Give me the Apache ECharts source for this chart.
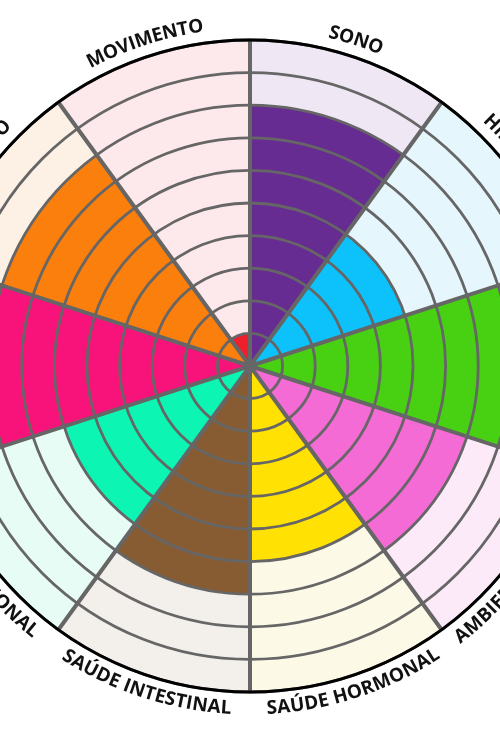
<!DOCTYPE html>
<html><head><meta charset="utf-8">
<script src="https://cdn.jsdelivr.net/npm/echarts@6/dist/echarts.min.js"></script>
<style>html,body{margin:0;padding:0;background:#fff;}#c{width:500px;height:730px;}</style>
</head><body><div id="c"></div>
<script>
// ---- data ----
const categories = ['SONO','HIDRATAÇÃO','ALIMENTAÇÃO','AMBIENTE E TOXINAS','SAÚDE HORMONAL','SAÚDE INTESTINAL','SAÚDE EMOCIONAL','ESTRESSE','PROPÓSITO','MOVIMENTO'];
const scores = [8, 5, 9, 7, 6, 7, 6, 8, 8, 1];
const maxScore = 10;
const fillColors = ['#672C92','#0DC2FA','#48D013','#F56BD6','#FFE203','#875C33','#0CF5B2','#F8137A','#FA7F0C','#EF1F2B'];
const bgColors   = ['#EFE7F4','#E6F6FD','#EAF9E3','#FCEAF8','#FCF9E7','#F3EFEA','#E6FCF5','#FDE7F0','#FDF1E6','#FDE9EC'];

// ---- layout ----
const CX = 250, CY = 366, R = 326;
const LABEL_R = 343;
const FONT = '700 19px "Open Sans", sans-serif';

const chart = echarts.init(document.getElementById('c'), null, {renderer: 'canvas'});

// curved labels, char by char
const ctx = document.createElement('canvas').getContext('2d');
ctx.font = FONT;
const labelEls = [];
const step = 360 / categories.length;
categories.forEach((name, i) => {
  const mid = (i + 0.5) * step; // degrees clockwise from top
  const chars = Array.from(name);
  const widths = chars.map(c => ctx.measureText(c).width);
  const L = widths.reduce((a, b) => a + b, 0);
  const bottom = mid > 90 && mid < 270;
  const halfDeg = (L / 2) / LABEL_R * 180 / Math.PI;
  let cum = 0;
  chars.forEach((ch, k) => {
    const off = (cum + widths[k] / 2) / LABEL_R * 180 / Math.PI;
    cum += widths[k];
    let th = bottom ? (mid + halfDeg - off) : (mid - halfDeg + off);
    const t = th * Math.PI / 180;
    const x = CX + LABEL_R * Math.sin(t);
    const y = CY - LABEL_R * Math.cos(t);
    const rot = bottom ? (Math.PI - t) : -t;
    labelEls.push({
      type: 'text', x: x, y: y, rotation: rot, z: 20,
      style: {text: ch, font: FONT, fill: '#111111', align: 'center', verticalAlign: 'middle'}
    });
  });
});

const option = {
  animation: false,
  backgroundColor: '#ffffff',
  polar: {center: [CX, CY], radius: R},
  angleAxis: {
    type: 'category', data: categories, startAngle: 90, clockwise: true, z: 12,
    axisLine: {show: true, lineStyle: {color: '#000000', width: 3}},
    axisTick: {show: false}, axisLabel: {show: false},
    splitLine: {show: true, lineStyle: {color: '#666666', width: 4}}
  },
  radiusAxis: {
    type: 'value', min: 0, max: maxScore, interval: 1, z: 11,
    axisLine: {show: false}, axisTick: {show: false}, axisLabel: {show: false},
    splitLine: {show: true, lineStyle: {color: '#666666', width: 2.8}}
  },
  series: [
    {
      type: 'bar', coordinateSystem: 'polar', barCategoryGap: '0%', barGap: '-100%', z: 1,
      silent: true,
      data: categories.map((c, i) => ({value: maxScore, itemStyle: {color: bgColors[i]}}))
    },
    {
      type: 'bar', coordinateSystem: 'polar', barCategoryGap: '0%', barGap: '-100%', z: 2,
      data: scores.map((v, i) => ({value: v, itemStyle: {color: fillColors[i]}}))
    }
  ],
  graphic: {elements: labelEls}
};
chart.setOption(option);
</script></body></html>
